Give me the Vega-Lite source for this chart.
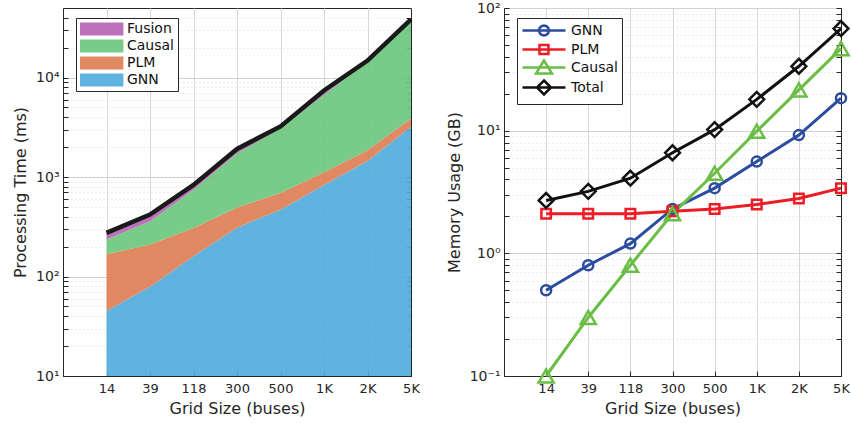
{
  "$schema": "https://vega.github.io/schema/vega-lite/v6.json",
  "padding": {"left": 12, "top": 0, "right": 6, "bottom": 0},
  "spacing": 24,
  "resolve": {"scale": {"color": "independent"}, "legend": {"color": "independent"}},
  "config": {
    "font": "DejaVu Sans",
    "view": {"stroke": "#262626", "strokeWidth": 1},
    "axis": {
      "domainColor": "#262626",
      "tickColor": "#262626",
      "labelColor": "#262626",
      "titleColor": "#262626",
      "labelFont": "DejaVu Sans",
      "titleFont": "DejaVu Sans",
      "labelFontSize": 13,
      "titleFontSize": 16,
      "titleFontWeight": "normal",
      "gridColor": "#d4d4d4",
      "gridWidth": 1
    },
    "legend": {
      "labelFont": "DejaVu Sans",
      "labelFontSize": 14,
      "labelColor": "#111111"
    }
  },
  "hconcat": [
    {
      "width": 348,
      "height": 368,
      "data": {
        "values": [
          {"n": "14", "s": "GNN", "k": 1, "v": 45},
          {"n": "39", "s": "GNN", "k": 1, "v": 79},
          {"n": "118", "s": "GNN", "k": 1, "v": 160},
          {"n": "300", "s": "GNN", "k": 1, "v": 310},
          {"n": "500", "s": "GNN", "k": 1, "v": 470},
          {"n": "1K", "s": "GNN", "k": 1, "v": 830},
          {"n": "2K", "s": "GNN", "k": 1, "v": 1450},
          {"n": "5K", "s": "GNN", "k": 1, "v": 3200},
          {"n": "14", "s": "PLM", "k": 2, "v": 122},
          {"n": "39", "s": "PLM", "k": 2, "v": 131},
          {"n": "118", "s": "PLM", "k": 2, "v": 148},
          {"n": "300", "s": "PLM", "k": 2, "v": 185},
          {"n": "500", "s": "PLM", "k": 2, "v": 219},
          {"n": "1K", "s": "PLM", "k": 2, "v": 290},
          {"n": "2K", "s": "PLM", "k": 2, "v": 410},
          {"n": "5K", "s": "PLM", "k": 2, "v": 680},
          {"n": "14", "s": "Causal", "k": 3, "v": 68},
          {"n": "39", "s": "Causal", "k": 3, "v": 149},
          {"n": "118", "s": "Causal", "k": 3, "v": 435},
          {"n": "300", "s": "Causal", "k": 3, "v": 1240},
          {"n": "500", "s": "Causal", "k": 3, "v": 2390},
          {"n": "1K", "s": "Causal", "k": 3, "v": 5600},
          {"n": "2K", "s": "Causal", "k": 3, "v": 12600},
          {"n": "5K", "s": "Causal", "k": 3, "v": 33100},
          {"n": "14", "s": "Fusion", "k": 4, "v": 40},
          {"n": "39", "s": "Fusion", "k": 4, "v": 60},
          {"n": "118", "s": "Fusion", "k": 4, "v": 90},
          {"n": "300", "s": "Fusion", "k": 4, "v": 180},
          {"n": "500", "s": "Fusion", "k": 4, "v": 150},
          {"n": "1K", "s": "Fusion", "k": 4, "v": 700},
          {"n": "2K", "s": "Fusion", "k": 4, "v": 350},
          {"n": "5K", "s": "Fusion", "k": 4, "v": 1500}
        ]
      },
      "transform": [
        {"stack": "v", "groupby": ["n"], "sort": [{"field": "k", "order": "ascending"}], "as": ["y0", "y1"]}
      ],
      "layer": [
        {
          "mark": {"type": "area", "opacity": 0.92},
          "encoding": {
            "x": {
              "field": "n", "type": "ordinal",
              "sort": ["", "14", "39", "118", "300", "500", "1K", "2K", "5K"],
              "scale": {"type": "point", "padding": 0, "domain": ["", "14", "39", "118", "300", "500", "1K", "2K", "5K"]},
              "axis": {"title": "Grid Size (buses)", "labelAngle": 0, "tickSize": -5, "labelPadding": 11, "titlePadding": 5, "grid": true, "gridColor": "#d8d8d8"}
            },
            "y": {
              "field": "y1", "type": "quantitative",
              "scale": {"type": "log", "domain": [10, 50000], "clamp": true, "nice": false},
              "axis": {
                "title": "Processing Time (ms)",
                "values": [10,20,30,40,50,60,70,80,90,100,200,300,400,500,600,700,800,900,1000,2000,3000,4000,5000,6000,7000,8000,9000,10000,20000,30000,40000],
                "labelExpr": "datum.value===10?'10¹':datum.value===100?'10²':datum.value===1000?'10³':datum.value===10000?'10⁴':''",
                "labelOverlap": false,
                "labelFontSize": 14,
                "tickSize": -5,
                "labelPadding": 9,
                "titlePadding": 7,
                "grid": true,
                "gridDash": {"condition": {"test": "indexof([10,100,1000,10000], datum.value) >= 0", "value": []}, "value": [1, 3]},
                "gridColor": {"condition": {"test": "indexof([10,100,1000,10000], datum.value) >= 0", "value": "#d0d0d0"}, "value": "#d8d8d8"}
              }
            },
            "y2": {"field": "y0"},
            "color": {
              "field": "s", "type": "nominal",
              "scale": {"domain": ["Fusion", "Causal", "PLM", "GNN"], "range": ["#b565b5", "#6cc77e", "#de7f56", "#52addb"]},
              "legend": {
                "title": null,
                "orient": "none",
                "legendX": 13,
                "legendY": 10,
                "strokeColor": "#262626",
                "fillColor": "#ffffff",
                "padding": 4,
                "rowPadding": 3,
                "symbolType": "M-1,-0.93H5.2V0.93H-1Z",
                "symbolSize": 196,
                "symbolStrokeWidth": 0,
                "symbolOpacity": 0.92,
                "labelOffset": 33
              }
            }
          }
        },
        {
          "transform": [{"filter": "datum.s === 'Fusion'"}],
          "mark": {"type": "line", "color": "#1a1a1a", "strokeWidth": 4.5},
          "encoding": {
            "x": {
              "field": "n", "type": "ordinal",
              "sort": ["", "14", "39", "118", "300", "500", "1K", "2K", "5K"],
              "scale": {"type": "point", "padding": 0, "domain": ["", "14", "39", "118", "300", "500", "1K", "2K", "5K"]}
            },
            "y": {
              "field": "y1", "type": "quantitative",
              "scale": {"type": "log", "domain": [10, 50000], "clamp": true, "nice": false},
              "axis": {
                "orient": "right",
                "title": null,
                "labels": false,
                "grid": false,
                "values": [10,20,30,40,50,60,70,80,90,100,200,300,400,500,600,700,800,900,1000,2000,3000,4000,5000,6000,7000,8000,9000,10000,20000,30000,40000],
                "tickSize": -5
              }
            }
          }
        }
      ],
      "resolve": {"axis": {"y": "independent"}}
    },
    {
      "width": 337,
      "height": 368,
      "data": {
        "values": [
          {"n": "14", "s": "GNN", "v": 0.5},
          {"n": "39", "s": "GNN", "v": 0.8},
          {"n": "118", "s": "GNN", "v": 1.2},
          {"n": "300", "s": "GNN", "v": 2.3},
          {"n": "500", "s": "GNN", "v": 3.4},
          {"n": "1K", "s": "GNN", "v": 5.6},
          {"n": "2K", "s": "GNN", "v": 9.2},
          {"n": "5K", "s": "GNN", "v": 18.4},
          {"n": "14", "s": "PLM", "v": 2.1},
          {"n": "39", "s": "PLM", "v": 2.1},
          {"n": "118", "s": "PLM", "v": 2.1},
          {"n": "300", "s": "PLM", "v": 2.2},
          {"n": "500", "s": "PLM", "v": 2.3},
          {"n": "1K", "s": "PLM", "v": 2.5},
          {"n": "2K", "s": "PLM", "v": 2.8},
          {"n": "5K", "s": "PLM", "v": 3.4},
          {"n": "14", "s": "Causal", "v": 0.1},
          {"n": "39", "s": "Causal", "v": 0.3},
          {"n": "118", "s": "Causal", "v": 0.8},
          {"n": "300", "s": "Causal", "v": 2.1},
          {"n": "500", "s": "Causal", "v": 4.5},
          {"n": "1K", "s": "Causal", "v": 9.9},
          {"n": "2K", "s": "Causal", "v": 21.5},
          {"n": "5K", "s": "Causal", "v": 46.7},
          {"n": "14", "s": "Total", "v": 2.7},
          {"n": "39", "s": "Total", "v": 3.2},
          {"n": "118", "s": "Total", "v": 4.1},
          {"n": "300", "s": "Total", "v": 6.6},
          {"n": "500", "s": "Total", "v": 10.2},
          {"n": "1K", "s": "Total", "v": 18},
          {"n": "2K", "s": "Total", "v": 33.5},
          {"n": "5K", "s": "Total", "v": 68}
        ]
      },
      "encoding": {
        "x": {
          "field": "n", "type": "ordinal",
          "sort": ["", "14", "39", "118", "300", "500", "1K", "2K", "5K"],
          "scale": {"type": "point", "padding": 0, "domain": ["", "14", "39", "118", "300", "500", "1K", "2K", "5K"]},
          "axis": {"title": "Grid Size (buses)", "labelAngle": 0, "tickSize": -5, "labelPadding": 11, "titlePadding": 5, "grid": true, "gridColor": "#d8d8d8"}
        }
      },
      "layer": [
        {
          "mark": {"type": "line", "strokeWidth": 3},
          "encoding": {
            "y": {
              "field": "v", "type": "quantitative",
              "scale": {"type": "log", "domain": [0.1, 100], "nice": false},
              "axis": {
                "title": "Memory Usage (GB)",
                "values": [0.1,0.2,0.3,0.4,0.5,0.6,0.7,0.8,0.9,1,2,3,4,5,6,7,8,9,10,20,30,40,50,60,70,80,90,100],
                "labelExpr": "datum.value===0.1?'10⁻¹':datum.value===1?'10⁰':datum.value===10?'10¹':datum.value===100?'10²':''",
                "labelOverlap": false,
                "labelFontSize": 14,
                "tickSize": -5,
                "labelPadding": 9,
                "titlePadding": 7,
                "grid": true,
                "gridDash": {"condition": {"test": "indexof([0.1,1,10,100], datum.value) >= 0", "value": []}, "value": [1, 3]},
                "gridColor": {"condition": {"test": "indexof([0.1,1,10,100], datum.value) >= 0", "value": "#d0d0d0"}, "value": "#d8d8d8"}
              }
            },
            "color": {
              "field": "s", "type": "nominal",
              "scale": {"domain": ["GNN", "PLM", "Causal", "Total"], "range": ["#2c4c9e", "#ee1c25", "#6abd45", "#111111"]},
              "legend": {
                "title": null,
                "orient": "none",
                "legendX": 13,
                "legendY": 10,
                "strokeColor": "#262626",
                "fillColor": "#ffffff",
                "padding": 4,
                "rowPadding": -8,
                "symbolSize": 196,
                "symbolStrokeWidth": 2.5,
                "labelOffset": 33,
                "encode": {
                  "symbols": {
                    "update": {
                      "shape": {"signal": "datum.value==='GNN'?'M-1,0H5.14M2.78,0L2.685,0.355L2.425,0.615L2.07,0.71L1.715,0.615L1.455,0.355L1.36,0L1.455,-0.355L1.715,-0.615L2.07,-0.71L2.425,-0.615L2.685,-0.355Z':datum.value==='PLM'?'M-1,0H5.14M1.43,-0.64H2.71V0.64H1.43Z':datum.value==='Causal'?'M-1,0H5.14M2.07,-1L3.21,0.86L0.93,0.86Z':'M-1,0H5.14M2.07,-1L3.07,0L2.07,1L1.07,0Z'"},
                      "fill": {"value": "transparent"}
                    }
                  }
                }
              }
            }
          }
        },
        {
          "transform": [{"filter": "datum.s === 'GNN'"}],
          "mark": {"type": "point", "shape": "circle", "size": 100, "filled": false, "strokeWidth": 2.5, "color": "#2c4c9e", "opacity": 1},
          "encoding": {"y": {"field": "v", "type": "quantitative", "scale": {"type": "log", "domain": [0.1, 100], "nice": false}, "axis": null}}
        },
        {
          "transform": [{"filter": "datum.s === 'PLM'"}],
          "mark": {"type": "point", "shape": "square", "size": 90, "filled": false, "strokeWidth": 2.5, "color": "#ee1c25", "opacity": 1},
          "encoding": {"y": {"field": "v", "type": "quantitative", "scale": {"type": "log", "domain": [0.1, 100], "nice": false}, "axis": null}}
        },
        {
          "transform": [{"filter": "datum.s === 'Causal'"}],
          "mark": {"type": "point", "shape": "triangle-up", "size": 230, "filled": false, "strokeWidth": 2.5, "color": "#6abd45", "opacity": 1},
          "encoding": {"y": {"field": "v", "type": "quantitative", "scale": {"type": "log", "domain": [0.1, 100], "nice": false}, "axis": null}}
        },
        {
          "transform": [{"filter": "datum.s === 'Total'"}],
          "mark": {"type": "point", "shape": "diamond", "size": 220, "filled": false, "strokeWidth": 2.5, "color": "#111111", "opacity": 1},
          "encoding": {
            "y": {
              "field": "v", "type": "quantitative",
              "scale": {"type": "log", "domain": [0.1, 100], "nice": false},
              "axis": {
                "orient": "right",
                "title": null,
                "labels": false,
                "grid": false,
                "values": [0.1,0.2,0.3,0.4,0.5,0.6,0.7,0.8,0.9,1,2,3,4,5,6,7,8,9,10,20,30,40,50,60,70,80,90,100],
                "tickSize": -5
              }
            }
          }
        }
      ],
      "resolve": {"axis": {"y": "independent"}}
    }
  ]
}
